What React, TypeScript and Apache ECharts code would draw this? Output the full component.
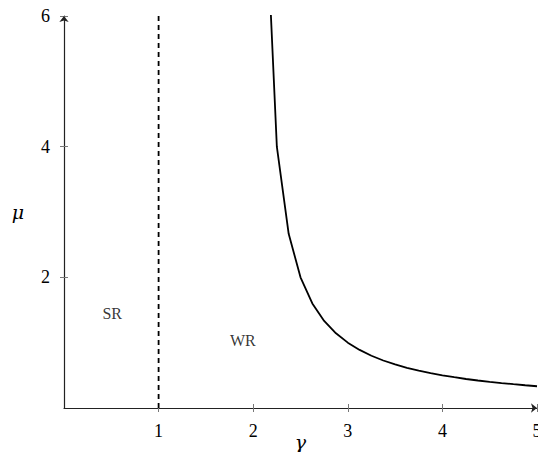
import React, { useEffect, useRef } from "react";
import * as echarts from "echarts";

const gammaValues = [2.125, 2.25, 2.375, 2.5, 2.625, 2.75, 2.875, 3, 3.125, 3.25, 3.375, 3.5, 3.625, 3.75, 3.875, 4, 4.125, 4.25, 4.375, 4.5, 4.625, 4.75, 4.875, 5];
const muValues = [8, 4, 2.667, 2, 1.6, 1.333, 1.143, 1, 0.889, 0.8, 0.727, 0.667, 0.615, 0.571, 0.533, 0.5, 0.471, 0.444, 0.421, 0.4, 0.381, 0.364, 0.348, 0.333];
const dashedX = [1, 1];
const dashedY = [0, 6];
const xTicks = [1, 2, 3, 4, 5];
const yTicks = [2, 4, 6];
const regionLabels = [
  { name: "SR", x: 0.51, y: 1.45 },
  { name: "WR", x: 1.89, y: 1.04 },
];

const FONT = "DejaVu Serif";
const FONT2 = "Liberation Serif";

export default function App() {
  const ref = useRef<HTMLDivElement>(null);
  useEffect(() => {
    if (!ref.current) return;
    const chart = echarts.init(ref.current, null, { renderer: "svg" });
    const axisLine = { show: true, lineStyle: { color: "#222", width: 1.2 } };
    const tickStyle = { color: "#777", width: 1 };
    const lbl = { fontSize: 16, fontFamily: FONT2, color: "#000", fontWeight: "normal" };
    chart.setOption({
      animation: false,
      backgroundColor: "#fff",
      textStyle: { fontFamily: FONT2 },
      grid: { left: 64, right: 1, top: 16, bottom: 44, containLabel: false, outerBoundsMode: "none" },
      xAxis: [
        {
          type: "value", min: 0, max: 5, interval: 1,
          axisLine: { ...axisLine, symbol: ["none", "arrow"], symbolSize: [7, 6], symbolOffset: [0, 0] },
          axisTick: { show: true, length: 4, inside: false, customValues: xTicks, lineStyle: tickStyle },
          axisLabel: { customValues: xTicks, margin: 14, ...lbl, fontSize: 18 },
          splitLine: { show: false },
          name: "γ", nameLocation: "middle", nameGap: 24, nameMoveOverlap: false,
          nameTextStyle: { fontSize: 19, fontFamily: FONT, fontStyle: "italic", color: "#000" },
        },
        {
          type: "value", min: 0, max: 5, interval: 1, position: "bottom", offset: 0,
          axisLine: { show: false },
          axisTick: { show: true, length: 4, inside: true, customValues: xTicks, lineStyle: tickStyle },
          axisLabel: { show: false },
          splitLine: { show: false },
        },
      ],
      yAxis: [
        {
          type: "value", min: 0, max: 6, interval: 2,
          axisLine: { ...axisLine, symbol: ["none", "arrow"], symbolSize: [7, 6] },
          axisTick: { show: true, length: 4, inside: false, customValues: yTicks, lineStyle: tickStyle },
          axisLabel: { customValues: yTicks, margin: 14, ...lbl, fontSize: 18 },
          splitLine: { show: false },
          name: "μ", nameLocation: "middle", nameGap: 40, nameRotate: 0, nameMoveOverlap: false,
          nameTextStyle: { fontSize: 19, fontFamily: FONT, fontStyle: "italic", color: "#000" },
        },
        {
          type: "value", min: 0, max: 6, interval: 2, position: "left", offset: 0,
          axisLine: { show: false },
          axisTick: { show: true, length: 4, inside: true, customValues: yTicks, lineStyle: tickStyle },
          axisLabel: { show: false },
          splitLine: { show: false },
        },
      ],
      series: [
        {
          type: "line",
          data: gammaValues.map((g, i) => [g, muValues[i]]),
          showSymbol: false,
          clip: true,
          lineStyle: { color: "#000", width: 1.8 },
        },
        {
          type: "line",
          data: dashedX.map((x, i) => [x, dashedY[i]]),
          showSymbol: false,
          clip: true,
          lineStyle: { color: "#000", width: 1.8, type: [5, 4] },
        },
        {
          type: "scatter",
          data: regionLabels.map((d) => ({ name: d.name, value: [d.x, d.y] })),
          symbolSize: 0,
          label: { show: true, position: "inside", formatter: "{b}", ...lbl },
        },
      ],
    });
    return () => chart.dispose();
  }, []);
  return <div ref={ref} style={{ position: "absolute", left: 0, top: 0, width: 538, height: 452 }} />;
}
